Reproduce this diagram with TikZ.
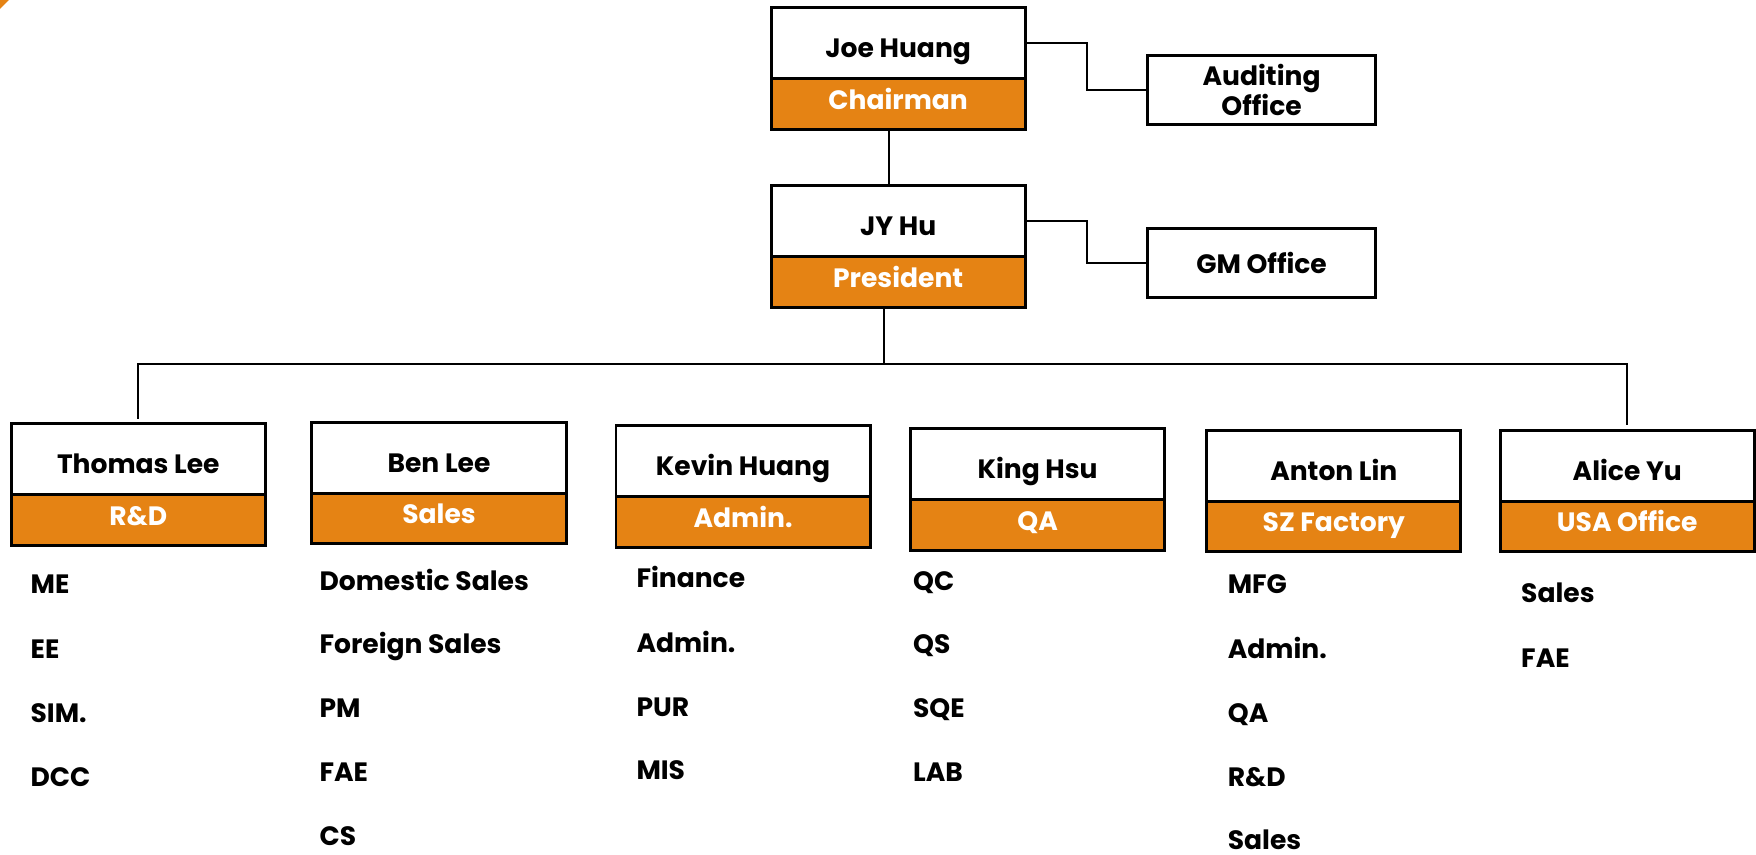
\documentclass[tikz,border=0pt]{standalone}
\usepackage{fontspec}
\setmainfont{Poppins}
\usetikzlibrary{positioning}
\definecolor{deptorange}{RGB}{229,131,20}

\begin{document}
\begin{tikzpicture}[x=0.02cm,y=-0.02cm]

\tikzset{person/.style = {shape=rectangle,draw,line width=1.5pt,outer sep=0pt,fill=white,minimum width=4.54cm,minimum height=1.27cm,text height=14.5pt,text depth=0pt,font=\fontsize{13.5}{16}\selectfont\bfseries}}
\tikzset{role/.style = {person,fill=deptorange,text=white,minimum height=0.9cm,text height=0.7em,text depth=1.7pt}}
\tikzset{office/.style = {shape=rectangle,draw,line width=1.5pt,outer sep=0pt,minimum width=4.06cm,minimum height=1.23cm,align=center,font=\fontsize{13.5}{15.5}\selectfont\bfseries}}
\tikzset{duty/.style = {anchor=west,inner sep=0pt,text height=0.9em,text depth=0pt,font=\fontsize{13.5}{16}\selectfont\bfseries}}
\tikzset{link/.style = {line width=1pt}}

\useasboundingbox (0,0) rectangle (1568,763);
\fill[deptorange] (0,0) -- (8,0) -- (0,8) -- cycle;

% top
\node[person] (joe) at (802,38.5) {Joe Huang};
\node[role, below=0pt of joe] (chair) {Chairman};
\node[office] (audit) at (1126.5,80.5) {Auditing\\Office};
\node[person] (jy) at (802,197.5) {JY Hu};
\node[role, below=0pt of jy] (pres) {President};
\node[office] (gm) at (1126.5,235) {GM Office};

% heads
\node[person] (thomas) at (123.5,410) {Thomas Lee};
\node[role, below=0pt of thomas] (rd) {R\&D};
\node[person] (ben) at (392,409) {Ben Lee};
\node[role, below=0pt of ben] (sales) {Sales};
\node[person] (kevin) at (663.5,412) {Kevin Huang};
\node[role, below=0pt of kevin] (admin) {Admin.};
\node[person] (king) at (926.5,414.5) {King Hsu};
\node[role, below=0pt of king] (qa) {QA};
\node[person] (anton) at (1191,416) {Anton Lin};
\node[role, below=0pt of anton] (sz) {SZ Factory};
\node[person] (alice) at (1453,416) {Alice Yu};
\node[role, below=0pt of alice] (usa) {USA Office};

% sections
\node[duty] (rd1) at (27,522) {ME};
\node[duty] (rd2) at (27,580) {EE};
\node[duty] (rd3) at (27,637) {SIM.};
\node[duty] (rd4) at (27,694) {DCC};

\node[duty] (sales1) at (285,519) {Domestic Sales};
\node[duty] (sales2) at (285,576) {Foreign Sales};
\node[duty] (sales3) at (285,633) {PM};
\node[duty] (sales4) at (285,690) {FAE};
\node[duty] (sales5) at (285,747) {CS};

\node[duty] (admin1) at (568,517) {Finance};
\node[duty] (admin2) at (568,575) {Admin.};
\node[duty] (admin3) at (568,632) {PUR};
\node[duty] (admin4) at (568,688) {MIS};

\node[duty] (qa1) at (815,519) {QC};
\node[duty] (qa2) at (815,576) {QS};
\node[duty] (qa3) at (815,633) {SQE};
\node[duty] (qa4) at (815,690) {LAB};

\node[duty] (sz1) at (1096,522) {MFG};
\node[duty] (sz2) at (1096,580) {Admin.};
\node[duty] (sz3) at (1096,637) {QA};
\node[duty] (sz4) at (1096,694) {R\&D};
\node[duty] (sz5) at (1096,751) {Sales};

\node[duty] (usa1) at (1358,530) {Sales};
\node[duty] (usa2) at (1358,588) {FAE};

% links
\coordinate (spine) at (794,0);
\coordinate (bus) at (789,325);
\draw[link] (joe.east) -- ++(55,0) |- (audit.west);
\draw[link] (jy.east) -- ++(55,0) |- (gm.west);
\draw[link] (chair.south -| spine) -- (jy.north -| spine);
\draw[link] (pres.south -| bus) -- (bus);
\draw[link, shorten <=2.5pt, shorten >=2.5pt] (thomas.north) |- (bus) -| (alice.north);

\end{tikzpicture}
\end{document}
